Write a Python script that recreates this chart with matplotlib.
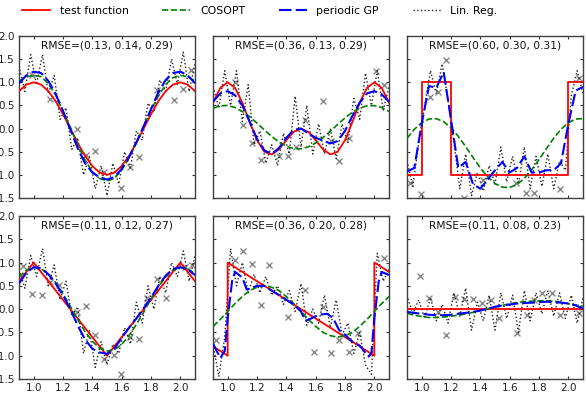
import matplotlib
matplotlib.use('Agg')
import matplotlib.pyplot as plt

# ---------------- data ----------------
X_GRID = [0.90, 0.95, 1.00, 1.05, 1.10, 1.15, 1.20, 1.25, 1.30, 1.35, 1.40, 1.45, 1.50,
          1.55, 1.60, 1.65, 1.70, 1.75, 1.80, 1.85, 1.90, 1.95, 2.00, 2.05, 2.10]
X_LR = [0.90, 0.94, 0.98, 1.02, 1.06, 1.10, 1.14, 1.18, 1.22, 1.26, 1.30, 1.34, 1.38, 1.42,
        1.46, 1.50, 1.54, 1.58, 1.62, 1.66, 1.70, 1.74, 1.78, 1.82, 1.86, 1.90, 1.94, 1.98,
        2.02, 2.06, 2.10]

titles = ["RMSE=(0.13, 0.14, 0.29)", "RMSE=(0.36, 0.13, 0.29)", "RMSE=(0.60, 0.30, 0.31)",
          "RMSE=(0.11, 0.12, 0.27)", "RMSE=(0.36, 0.20, 0.28)", "RMSE=(0.11, 0.08, 0.23)"]

# panel 1 : cosine
p1_true_x = X_GRID
p1_true_y = [0.81, 0.95, 1.0, 0.95, 0.81, 0.59, 0.31, 0.0, -0.31, -0.59, -0.81, -0.95, -1.0,
             -0.95, -0.81, -0.59, -0.31, 0.0, 0.31, 0.59, 0.81, 0.95, 1.0, 0.95, 0.81]
p1_cos = [1.03, 1.12, 1.15, 1.12, 0.97, 0.72, 0.38, 0.03, -0.35, -0.68, -0.93, -1.08, -1.13,
          -1.08, -0.9, -0.63, -0.3, 0.05, 0.4, 0.7, 0.95, 1.1, 1.15, 1.12, 1.03]
p1_gp_x = X_GRID
p1_gp = [0.98, 1.15, 1.23, 1.2, 1.03, 0.75, 0.38, -0.02, -0.42, -0.75, -0.95, -1.05, -1.1,
         -1.05, -0.87, -0.62, -0.3, 0.05, 0.42, 0.78, 1.05, 1.2, 1.23, 1.15, 0.98]
p1_lr = [1.35, 0.8, 1.6, 0.95, 1.6, 0.75, 1.15, 0.2, 0.45, -0.45, -0.2, -1.0, -0.6, -1.3,
         -0.8, -1.45, -0.75, -1.2, -0.5, -0.85, -0.05, -0.25, 0.55, 0.35, 1.05, 0.8, 1.5,
         0.95, 1.65, 0.8, 1.4]
p1_obs_x = [0.99, 1.113, 1.295, 1.36, 1.417, 1.478, 1.597, 1.66, 1.72, 1.84, 1.96, 2.02, 2.07]
p1_obs_y = [1.15, 0.64, 0.0, -0.58, -0.48, -0.93, -1.29, -0.82, -0.61, 0.83, 0.62, 0.85, 1.27]

# panel 2 : two harmonics
p2_true_x = X_GRID
p2_true_y = [0.559, 0.88, 1.0, 0.88, 0.559, 0.139, -0.25, -0.5, -0.56, -0.449, -0.25, -0.071,
             0.0, -0.071, -0.25, -0.449, -0.56, -0.5, -0.25, 0.139, 0.559, 0.88, 1.0, 0.88, 0.559]
p2_cos = [0.44, 0.49, 0.5, 0.455, 0.37, 0.256, 0.118, -0.029, -0.17, -0.292, -0.382, -0.432,
          -0.436, -0.395, -0.313, -0.196, -0.058, 0.089, 0.23, 0.352, 0.442, 0.492, 0.496,
          0.455, 0.37]
p2_gp_x = X_GRID
p2_gp = [0.58, 0.76, 0.81, 0.72, 0.5, 0.15, -0.22, -0.47, -0.55, -0.42, -0.2, -0.03, 0.0,
         -0.1, -0.2, -0.26, -0.32, -0.27, -0.05, 0.27, 0.56, 0.76, 0.81, 0.74, 0.58]
p2_lr = [0.9, 0.45, 1.25, 0.5, 1.25, 0.15, 0.95, -0.35, -0.05, -0.75, -0.35, -0.8, -0.1,
         -0.55, 0.7, -0.4, 0.5, -0.55, 0.1, -0.55, 0.0, -0.65, 0.1, -0.3, 0.65, 0.2, 1.2,
         0.5, 1.25, 0.4, 0.9]
p2_obs_x = [1.047, 1.104, 1.167, 1.228, 1.353, 1.41, 1.466, 1.53, 1.647, 1.704, 1.76, 1.828,
            2.01, 2.066]
p2_obs_y = [1.01, 0.08, -0.32, -0.68, -0.59, -0.59, -0.4, 0.19, 0.6, -0.27, -0.69, -0.21,
            1.25, 0.94]

# panel 3 : square wave
p3_true_x = [0.9, 1.0, 1.0, 1.2, 1.2, 2.0, 2.0, 2.1]
p3_true_y = [-1.0, -1.0, 1.0, 1.0, -1.0, -1.0, 1.0, 1.0]
p3_cos = [-0.21, -0.016, 0.127, 0.207, 0.214, 0.149, 0.017, -0.169, -0.39, -0.624, -0.85,
          -1.044, -1.187, -1.267, -1.274, -1.209, -1.077, -0.89, -0.67, -0.436, -0.21, -0.016,
          0.127, 0.207, 0.214]
p3_gp_x = X_GRID
p3_gp = [-0.93, -0.85, 0.1, 0.92, 0.88, 1.22, 0.2, -0.85, -0.72, -1.2, -1.3, -1.1, -0.9,
         -0.72, -0.95, -0.85, -0.6, -0.95, -0.95, -0.9, -0.9, -0.75, 0.1, 0.82, 0.9]
p3_lr = [-0.7, -1.25, -0.3, 0.5, 1.25, 0.75, 1.4, 0.6, -0.3, -1.3, -0.55, -1.45, -0.95,
         -1.35, -0.8, -1.2, -0.4, -1.15, -0.6, -1.2, -0.4, -1.3, -0.6, -1.25, -0.55, -1.3,
         -0.7, -0.9, 0.7, 1.25, 0.75]
p3_obs_x = [0.918, 0.993, 1.054, 1.11, 1.167, 1.29, 1.415, 1.64, 1.71, 1.766, 1.946, 2.07]
p3_obs_y = [-1.18, -1.41, 0.69, 0.8, 1.48, -1.5, -1.11, -1.18, -1.4, -1.4, -1.31, 1.1]

# panel 4 : triangle wave
p4_true_x = [0.9, 1.0, 1.5, 2.0, 2.1]
p4_true_y = [0.6, 1.0, -1.0, 1.0, 0.6]
p4_cos = [0.69, 0.84, 0.9, 0.87, 0.76, 0.57, 0.33, 0.06, -0.22, -0.48, -0.69, -0.84, -0.9,
          -0.87, -0.76, -0.57, -0.33, -0.06, 0.22, 0.48, 0.69, 0.84, 0.9, 0.87, 0.76]
p4_gp_x = X_GRID
p4_gp = [0.55, 0.78, 0.9, 0.88, 0.75, 0.55, 0.3, 0.0, -0.35, -0.65, -0.85, -0.93, -0.96,
         -0.85, -0.62, -0.4, -0.2, 0.02, 0.25, 0.5, 0.72, 0.86, 0.9, 0.85, 0.73]
p4_lr = [0.85, 0.45, 1.15, 0.7, 1.3, 0.5, 0.95, 0.2, 0.6, -0.15, 0.05, -0.95, -0.45, -1.25,
         -0.7, -1.2, -0.75, -0.95, -0.4, -0.75, 0.15, -0.3, 0.5, 0.0, 0.7, 0.35, 1.0, 0.7,
         1.25, 0.6, 1.15]
p4_obs_x = [0.93, 0.99, 1.055, 1.11, 1.17, 1.295, 1.36, 1.417, 1.478, 1.547, 1.597, 1.66,
            1.72, 1.775, 1.84, 1.9, 2.03, 2.08]
p4_obs_y = [0.93, 0.32, 0.3, 0.59, 0.51, -0.06, 0.07, -0.56, -1.08, -0.99, -1.39, -0.59,
            -0.65, 0.23, 0.64, 0.23, 0.9, 0.94]

# panel 5 : sawtooth
p5_true_x = [0.9, 1.0, 1.0, 2.0, 2.0, 2.1]
p5_true_y = [-0.8, -1.0, 1.0, -1.0, 1.0, 0.8]
p5_cos = [-0.37, -0.22, -0.05, 0.12, 0.27, 0.4, 0.47, 0.5, 0.47, 0.4, 0.27, 0.12, -0.05,
          -0.22, -0.37, -0.5, -0.57, -0.6, -0.57, -0.5, -0.37, -0.22, -0.05, 0.12, 0.27]
p5_gp_x = [0.9, 0.95, 0.98, 1.0, 1.03, 1.05, 1.1, 1.13, 1.2, 1.25, 1.3, 1.35, 1.4, 1.45,
           1.5, 1.53, 1.57, 1.62, 1.68, 1.72, 1.76, 1.8, 1.85, 1.9, 1.93, 1.96, 1.98, 2.0,
           2.03, 2.05, 2.1]
p5_gp = [-0.74, -1.05, -0.9, -0.2, 0.6, 0.8, 0.68, 0.42, 0.5, 0.5, 0.4, 0.3, 0.2, 0.1,
         -0.05, -0.25, -0.2, -0.12, -0.1, -0.2, -0.45, -0.55, -0.7, -0.78, -0.9, -1.02,
         -0.95, -0.2, 0.6, 0.8, 0.73]
p5_lr = [-0.75, -1.45, -0.6, 1.3, 0.5, 1.0, 0.35, 0.75, 0.35, 0.7, 0.3, 0.5, 0.1, 0.4, -0.05,
         0.55, -0.35, 0.0, -0.3, 0.3, -0.4, 0.2, -0.55, -0.3, -0.95, -0.5, -1.2, -1.4, 1.2,
         0.6, 0.85]
p5_obs_x = [0.923, 1.047, 1.104, 1.167, 1.228, 1.285, 1.41, 1.53, 1.59, 1.647, 1.704, 1.76,
            1.828, 1.89, 2.066]
p5_obs_y = [-0.66, 1.06, 1.25, 0.98, 0.09, 0.94, -0.16, 0.41, -0.91, 0.04, -0.95, -0.66,
            -0.91, -0.52, 1.09]

# panel 6 : constant
p6_true_x = [0.9, 2.1]
p6_true_y = [0.0, 0.0]
p6_cos = [-0.09, -0.13, -0.16, -0.18, -0.18, -0.17, -0.15, -0.13, -0.1, -0.07, -0.03, 0.01,
          0.05, 0.08, 0.11, 0.14, 0.16, 0.17, 0.18, 0.18, 0.17, 0.15, 0.12, 0.09, 0.06]
p6_gp_x = X_GRID
p6_gp = [-0.06, -0.08, -0.1, -0.12, -0.13, -0.13, -0.12, -0.1, -0.08, -0.06, -0.03, 0.01,
         0.05, 0.08, 0.1, 0.12, 0.13, 0.14, 0.15, 0.16, 0.15, 0.14, 0.12, 0.08, 0.01]
p6_lr = [0.3, -0.1, 0.2, -0.2, 0.25, -0.25, 0.1, -0.3, 0.35, -0.15, 0.45, -0.45, 0.15, -0.25,
         0.3, -0.45, 0.35, -0.2, 0.3, -0.5, 0.4, -0.25, 0.35, -0.1, 0.4, -0.15, 0.35, -0.2,
         0.3, -0.3, 0.25]
p6_obs_x = [0.986, 1.05, 1.11, 1.167, 1.23, 1.29, 1.35, 1.41, 1.47, 1.53, 1.65, 1.715, 1.766,
            1.82, 1.89, 1.946, 2.07]
p6_obs_y = [0.71, 0.23, -0.06, -0.56, 0.26, 0.21, 0.21, 0.14, 0.19, -0.18, -0.51, -0.13,
            0.19, 0.35, 0.34, -0.13, -0.09]

panels = [
    (p1_true_x, p1_true_y, p1_cos, p1_gp_x, p1_gp, p1_lr, p1_obs_x, p1_obs_y),
    (p2_true_x, p2_true_y, p2_cos, p2_gp_x, p2_gp, p2_lr, p2_obs_x, p2_obs_y),
    (p3_true_x, p3_true_y, p3_cos, p3_gp_x, p3_gp, p3_lr, p3_obs_x, p3_obs_y),
    (p4_true_x, p4_true_y, p4_cos, p4_gp_x, p4_gp, p4_lr, p4_obs_x, p4_obs_y),
    (p5_true_x, p5_true_y, p5_cos, p5_gp_x, p5_gp, p5_lr, p5_obs_x, p5_obs_y),
    (p6_true_x, p6_true_y, p6_cos, p6_gp_x, p6_gp, p6_lr, p6_obs_x, p6_obs_y),
]

x_ticks = [1.0, 1.2, 1.4, 1.6, 1.8, 2.0]
y_ticks = [-1.5, -1.0, -0.5, 0.0, 0.5, 1.0, 1.5, 2.0]

# ---------------- figure ----------------
W, H = 586, 398
fig = plt.figure(figsize=(W / 100, H / 100), dpi=100)
plt.rcParams['font.family'] = ['DejaVu Sans']

col_left = [19, 213, 407]
col_w = 176
row_top = [36, 216]
row_h = [162, 163]

handles = None
for i, (tx, ty, cy, gx, gy, ly, ox, oy) in enumerate(panels):
    r, c = divmod(i, 3)
    rect = [col_left[c] / W, 1 - (row_top[r] + row_h[r]) / H, col_w / W, row_h[r] / H]
    ax = fig.add_axes(rect)
    h1, = ax.plot(tx, ty, color='#ff0000', lw=1.3, label='test function', zorder=3)
    h2, = ax.plot(X_GRID, cy, color='#008000', lw=1.2, ls='--', label='COSOPT', zorder=4)
    h3, = ax.plot(gx, gy, color='#0000ff', lw=1.5, ls=(0, (6, 2)), label='periodic GP', zorder=5)
    h4, = ax.plot(X_LR, ly, color='#222222', lw=1.0, ls=':', label='Lin. Reg.', zorder=2)
    ax.plot(ox, oy, ls='none', marker='x', color='#888888', ms=5, mew=1.0, zorder=1)
    if handles is None:
        handles = [h1, h2, h3, h4]
    ax.set_xlim(0.9, 2.1)
    ax.set_ylim(-1.5, 2.0)
    ax.set_xticks(x_ticks)
    ax.set_yticks(y_ticks)
    ax.tick_params(direction='in', top=True, right=True, length=2.5, width=0.8,
                   labelsize=7.5, pad=3, colors='#333333', labelcolor='#222222')
    if r == 0:
        ax.set_xticklabels([])
    if c != 0:
        ax.set_yticklabels([])
    for s in ax.spines.values():
        s.set_color('#404040')
        s.set_linewidth(1.0)
    ax.text(0.5, 0.975, titles[i], transform=ax.transAxes, ha='center', va='top',
            fontsize=7.7, color='#111111')

fig.legend(handles, [h.get_label() for h in handles], loc='upper center',
           bbox_to_anchor=(0.443, 1.010), ncol=4, frameon=False, fontsize=7.8,
           handlelength=2.6, columnspacing=3.1, handletextpad=0.9)

fig.savefig('out.png', dpi=100)
